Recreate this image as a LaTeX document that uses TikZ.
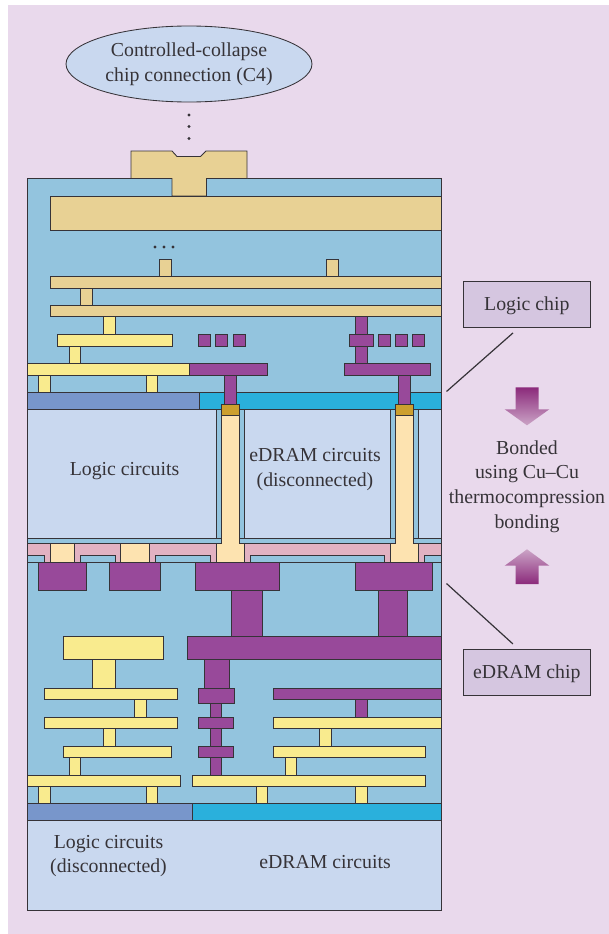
\documentclass[tikz,border=0pt]{standalone}
\usepackage{fontspec}
\setmainfont{Liberation Serif}
\usetikzlibrary{shapes.geometric}

\definecolor{pagepink}{HTML}{E9D9EC}
\definecolor{oxideblue}{HTML}{93C4DE}
\definecolor{metaltan}{HTML}{E8D194}
\definecolor{metalyellow}{HTML}{F9EB8E}
\definecolor{metalpurple}{HTML}{98499A}
\definecolor{logicblue}{HTML}{7896CB}
\definecolor{dramcyan}{HTML}{2AB0DC}
\definecolor{chipblue}{HTML}{C9D8EF}
\definecolor{bondpink}{HTML}{E2B2C2}
\definecolor{pillarcream}{HTML}{FDE3B0}
\definecolor{capgold}{HTML}{CC9F2E}
\definecolor{tagviolet}{HTML}{D5C6E0}
\definecolor{arrowdark}{HTML}{8B2A7B}
\definecolor{arrowlight}{HTML}{CBA4C6}
\definecolor{linedark}{HTML}{363338}

\begin{document}
\begin{tikzpicture}[
    x=1pt, y=-1pt,
    metal/.style={draw=linedark, fill=#1, line width=0.85pt},
    label/.style={text=linedark, align=center, inner sep=0pt, font=\fontsize{19.8}{24.6}\selectfont},
    tag/.style={label, text depth=2.2pt, draw=linedark, fill=tagviolet, line width=0.85pt, minimum width=127pt, minimum height=46.5pt},
    dot/.style={circle, fill=linedark, inner sep=0pt, minimum size=3.2pt},
    leader/.style={draw=linedark, line width=1.2pt},
]
\useasboundingbox (0,0) rectangle (609,934);
\fill[pagepink] (8,5) rectangle (609,934);

% C4 bubble and dots
\node[label, ellipse, metal=chipblue, minimum width=246pt, minimum height=76pt] (c4) at (189,64) {Controlled-collapse\\chip connection (C4)};
\node[dot] (c4a) at (189,115) {};
\node[dot] (c4b) at (189,126.5) {};
\node[dot] (c4c) at (189,138.5) {};

% Logic chip back end
\draw[metal=oxideblue] (27,178.5) rectangle (441,392);
\draw[metal=metaltan] (131,151) -- (172,151) -- (177,156.5) -- (200.5,156.5) -- (206,151) -- (247,151) -- (247,178.5) -- (206.5,178.5) -- (206.5,196) -- (172,196) -- (172,178.5) -- (131,178.5) -- cycle;
\draw[metal=metaltan] (50,196) rectangle (441,230);
\node[dot] (mora) at (155,247) {};
\node[dot] (morb) at (164,247) {};
\node[dot] (morc) at (173,247) {};
\draw[metal=metaltan] (159.5,259) rectangle (171,276.5);
\draw[metal=metaltan] (326.5,259) rectangle (338.5,276.5);
\draw[metal=metaltan] (50,276.5) rectangle (441,288);
\draw[metal=metaltan] (80.5,288) rectangle (92,305);
\draw[metal=metaltan] (50,305) rectangle (441,316.5);

% Logic chip, yellow wiring
\draw[metal=metalyellow] (103.5,316.5) rectangle (115,334.5);
\draw[metal=metalyellow] (57.5,334.5) rectangle (172,346);
\draw[metal=metalyellow] (69,346) rectangle (80.5,363.5);
\draw[metal=metalyellow] (27,363.5) rectangle (189,375);
\draw[metal=metalyellow] (38.5,375) rectangle (50,392);
\draw[metal=metalyellow] (146,375) rectangle (157.5,392);

% Logic chip, purple wiring
\draw[metal=metalpurple] (198.5,334.5) rectangle (210.5,346);
\draw[metal=metalpurple] (215.5,334.5) rectangle (227.5,346);
\draw[metal=metalpurple] (233,334.5) rectangle (245,346);
\draw[metal=metalpurple] (189,363.5) rectangle (267.5,375);
\draw[metal=metalpurple] (355.5,316.5) rectangle (367,363.5);
\draw[metal=metalpurple] (349.5,334.5) rectangle (373,346);
\draw[metal=metalpurple] (378.5,334.5) rectangle (390.5,346);
\draw[metal=metalpurple] (395.5,334.5) rectangle (407.5,346);
\draw[metal=metalpurple] (412.5,334.5) rectangle (424.5,346);
\draw[metal=metalpurple] (344,363.5) rectangle (430.5,375);

% Logic chip device layer
\draw[metal=logicblue] (27,392) rectangle (199,409);
\draw[metal=dramcyan] (199,392) rectangle (441,409);
\draw[metal=metalpurple] (224.5,375) rectangle (236,404);
\draw[metal=metalpurple] (398.5,375) rectangle (410,404);

% Thinned silicon with gaps for the through vias
\draw[metal=oxideblue] (27,409) rectangle (441,562);
\draw[metal=chipblue] (27,409) rectangle (216,538);
\draw[metal=chipblue] (244.5,409) rectangle (390,538);
\draw[metal=chipblue] (418.5,409) rectangle (441,538);
\draw[draw=linedark, line width=0.85pt] (216,538) -- (244.5,538);
\draw[draw=linedark, line width=0.85pt] (390,538) -- (418.5,538);

% Bond layer
\draw[metal=bondpink] (27,543.5) rectangle (441,562);
\draw[metal=oxideblue] (27,555.5) rectangle (44.5,562);
\draw[metal=oxideblue] (80.5,555.5) rectangle (115,562);
\draw[metal=oxideblue] (155.5,555.5) rectangle (210,562);
\draw[metal=oxideblue] (250.5,555.5) rectangle (384,562);
\draw[metal=oxideblue] (424.5,555.5) rectangle (441,562);
\draw[metal=pillarcream] (50,543.5) rectangle (74.5,562);
\draw[metal=pillarcream] (120.5,543.5) rectangle (149.5,562);

% Through vias
\draw[metal=pillarcream] (221.5,415) -- (239.5,415) -- (239.5,543.5) -- (244.5,543.5) -- (244.5,562) -- (216,562) -- (216,543.5) -- (221.5,543.5) -- cycle;
\draw[metal=pillarcream] (395.5,415) -- (413.5,415) -- (413.5,543.5) -- (418.5,543.5) -- (418.5,562) -- (390,562) -- (390,543.5) -- (395.5,543.5) -- cycle;
\draw[metal=capgold] (221.5,404) rectangle (239.5,415);
\draw[metal=capgold] (395.5,404) rectangle (413.5,415);

% eDRAM chip back end
\draw[metal=oxideblue] (27,562) rectangle (441,803.5);
\draw[metal=metalpurple] (38.5,562) rectangle (86,590);
\draw[metal=metalpurple] (109,562) rectangle (160.5,590);
\draw[metal=metalpurple] (195,562) rectangle (279,590);
\draw[metal=metalpurple] (355.5,562) rectangle (432.5,590);
\draw[metal=metalpurple] (231,590) rectangle (262,636);
\draw[metal=metalpurple] (378.5,590) rectangle (407,636);
\draw[metal=metalpurple] (187,636) rectangle (441,659);

% Left stack, yellow
\draw[metal=metalyellow] (63,636) rectangle (163.5,659);
\draw[metal=metalyellow] (92,659) rectangle (115,688);
\draw[metal=metalyellow] (44,688) rectangle (177.5,699.5);
\draw[metal=metalyellow] (134.5,699.5) rectangle (146,717);
\draw[metal=metalyellow] (44,717) rectangle (177.5,728.5);
\draw[metal=metalyellow] (103.5,728.5) rectangle (115,746);
\draw[metal=metalyellow] (63,746) rectangle (171.5,757.5);
\draw[metal=metalyellow] (69,757.5) rectangle (80.5,775);
\draw[metal=metalyellow] (27,775) rectangle (180,786);
\draw[metal=metalyellow] (38.5,786) rectangle (50,803.5);
\draw[metal=metalyellow] (146,786) rectangle (157.5,803.5);

% Middle stack, purple
\draw[metal=metalpurple] (204.5,659) rectangle (229,688);
\draw[metal=metalpurple] (198.5,688) rectangle (234.5,703);
\draw[metal=metalpurple] (210,703) rectangle (221.5,717);
\draw[metal=metalpurple] (198.5,717) rectangle (233,728.5);
\draw[metal=metalpurple] (210,728.5) rectangle (221.5,746);
\draw[metal=metalpurple] (198.5,746) rectangle (233,757.5);
\draw[metal=metalpurple] (210,757.5) rectangle (221.5,775);

% Right stack
\draw[metal=metalpurple] (273.5,688) rectangle (441,699.5);
\draw[metal=metalpurple] (355.5,699.5) rectangle (367,717);
\draw[metal=metalyellow] (273.5,717) rectangle (441,728.5);
\draw[metal=metalyellow] (319.5,728.5) rectangle (331,746);
\draw[metal=metalyellow] (273.5,746) rectangle (425.5,757.5);
\draw[metal=metalyellow] (285,757.5) rectangle (296.5,775);
\draw[metal=metalyellow] (192.5,775) rectangle (425.5,786);
\draw[metal=metalyellow] (256,786) rectangle (267.5,803.5);
\draw[metal=metalyellow] (355.5,786) rectangle (367,803.5);

% eDRAM chip device layer and silicon
\draw[metal=logicblue] (27,803.5) rectangle (192.5,820.5);
\draw[metal=dramcyan] (192.5,803.5) rectangle (441,820.5);
\draw[metal=chipblue] (27,820.5) rectangle (441,910);

% Circuit labels
\node[label] (logictop) at (124.5,471) {Logic circuits};
\node[label] (dramtop) at (315,469.5) {eDRAM circuits\\(disconnected)};
\node[label] (logicbot) at (108.5,856) {Logic circuits\\(disconnected)};
\node[label] (drambot) at (325,862.5) {eDRAM circuits};

% Chip tags with leaders
\node[tag] (logicchip) at (526.8,304.5) {Logic chip};
\node[tag] (dramchip) at (526.8,672.6) {eDRAM chip};
\coordinate (logicfoot) at (446.5,391.5);
\coordinate (dramfoot) at (446.5,583.5);
\draw[leader, shorten <=7.2pt] ([xshift=-8.4pt]logicchip.south) -- (logicfoot);
\draw[leader, shorten <=7.5pt] ([xshift=-8.4pt]dramchip.north) -- (dramfoot);

% Bonding note and arrows
\node[label] (bondnote) at (527,486.5) {Bonded\\using Cu--Cu\\thermocompression\\bonding};
\shade[top color=arrowdark, bottom color=arrowlight] (515.7,387.3) -- (538.7,387.3) -- (538.7,409.3) -- (549.3,409.3) -- (527,425.3) -- (504.7,409.3) -- (515.7,409.3) -- cycle;
\shade[top color=arrowlight, bottom color=arrowdark] (527,549.3) -- (549.3,565.7) -- (538.7,565.7) -- (538.7,584) -- (515.7,584) -- (515.7,565.7) -- (504.7,565.7) -- cycle;

\end{tikzpicture}
\end{document}
